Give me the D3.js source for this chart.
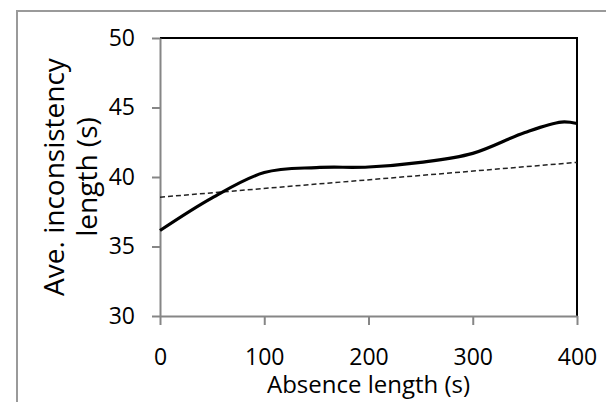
<!DOCTYPE html>
<html>
<head>
<meta charset="utf-8">
<script src="https://cdn.jsdelivr.net/npm/d3@7"></script>
<style>
  body { margin: 0; background: #fff; }
  text { font-family: "Open Sans", sans-serif; fill: #000; }
</style>
</head>
<body>
<svg id="chart" width="606" height="402"></svg>
<script>
// absence length (s) and the average inconsistency length (s)
var absence = [0, 50, 100, 150, 200, 250, 300, 350, 385, 400];
var inconsistency = [36.15, 38.5, 40.32, 40.68, 40.72, 41.05, 41.7, 43.2, 43.95, 43.85];

// linear trend line (dotted), its two end points
var trendX = [0, 400];
var trendY = [38.55, 41.05];

var xTicks = [0, 100, 200, 300, 400];
var yTicks = [30, 35, 40, 45, 50];

(function() {
	var svg = d3.select("#chart");

	// plot area in px
	var pLeft = 160, pRight = 577, pTop = 38, pBottom = 316;

	var x = d3.scaleLinear().domain([0, 400]).range([pLeft, pRight]);
	var y = d3.scaleLinear().domain([30, 50]).range([pBottom, pTop]);

	// outer frame of the figure
	svg.append("rect")
		.attr("x", 17).attr("y", 11)
		.attr("width", 620).attr("height", 420)
		.attr("fill", "none")
		.attr("stroke", "#9a9a9a")
		.attr("stroke-width", 2);

	// top and right border of the plot area are black
	svg.append("path")
		.attr("d", "M" + pLeft + "," + pTop + "H" + pRight + "V" + pBottom)
		.attr("fill", "none")
		.attr("stroke", "#000")
		.attr("stroke-width", 2);

	// y axis
	var yAxis = svg.append("g")
		.attr("transform", "translate(" + pLeft + ",0)")
		.call(d3.axisLeft(y).tickValues(yTicks).tickSize(8).tickSizeOuter(0).tickPadding(17));

	// x axis
	var xAxis = svg.append("g")
		.attr("transform", "translate(0," + pBottom + ")")
		.call(d3.axisBottom(x).tickValues(xTicks).tickSize(9).tickSizeOuter(0).tickPadding(24));

	[yAxis, xAxis].forEach(function(g){
		g.select(".domain").attr("stroke", "#868686").attr("stroke-width", 2);
		g.selectAll(".tick line").attr("stroke", "#868686").attr("stroke-width", 2);
		g.selectAll(".tick text")
			.style("font-family", "'Open Sans', sans-serif")
			.style("font-size", "23px")
			.attr("fill", "#000");
	});

	// trend line
	var trend = trendX.map(function(d, i){ return [d, trendY[i]]; });
	svg.append("path")
		.datum(trend)
		.attr("d", d3.line().x(function(d){ return x(d[0]); }).y(function(d){ return y(d[1]); }))
		.attr("fill", "none")
		.attr("stroke", "#222")
		.attr("stroke-width", 1.5)
		.attr("stroke-dasharray", "5,3");

	// smoothed data line
	var pts = absence.map(function(d, i){ return [d, inconsistency[i]]; });
	svg.append("path")
		.datum(pts)
		.attr("d", d3.line()
			.curve(d3.curveCatmullRom.alpha(0.5))
			.x(function(d){ return x(d[0]); })
			.y(function(d){ return y(d[1]); }))
		.attr("fill", "none")
		.attr("stroke", "#000")
		.attr("stroke-width", 3.2)
		.attr("stroke-linejoin", "round");

	// axis titles
	svg.append("text")
		.attr("x", (pLeft + pRight) / 2)
		.attr("y", 393)
		.attr("text-anchor", "middle")
		.style("font-size", "24px")
		.text("Absence length (s)");

	var yTitle = svg.append("text")
		.attr("transform", "rotate(-90)")
		.attr("text-anchor", "middle")
		.style("font-size", "28px");
	yTitle.append("tspan")
		.attr("x", -(pTop + pBottom) / 2).attr("y", 64)
		.text("Ave. inconsistency");
	yTitle.append("tspan")
		.attr("x", -(pTop + pBottom) / 2).attr("y", 97)
		.text("length (s)");
})();
</script>
</body>
</html>
